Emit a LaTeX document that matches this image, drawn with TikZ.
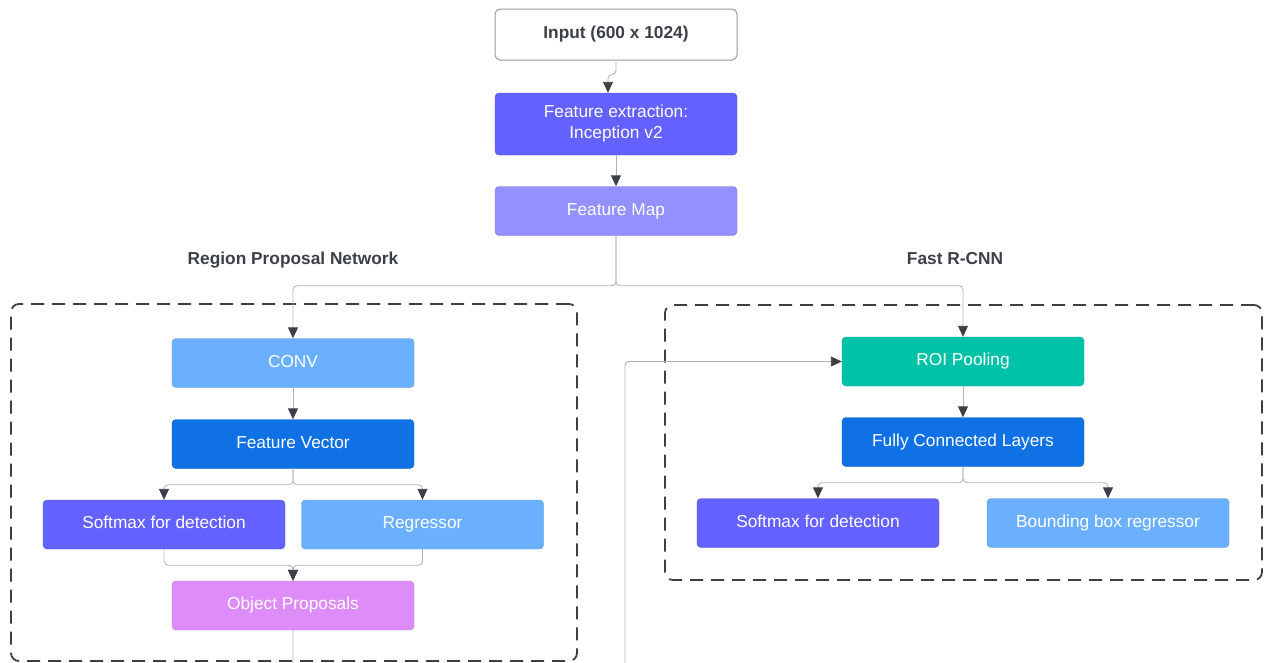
\documentclass[tikz,border=0pt]{standalone}
\usepackage{fontspec}
\setmainfont{Liberation Sans}
\usetikzlibrary{arrows.meta}
\definecolor{cFE}{HTML}{6361FF}
\definecolor{cFM}{HTML}{9391FF}
\definecolor{cLB}{HTML}{6BB0FF}
\definecolor{cDB}{HTML}{1071E5}
\definecolor{cOP}{HTML}{DE8CFA}
\definecolor{cROI}{HTML}{00C2A8}
\definecolor{cDark}{HTML}{3B3F46}
\definecolor{cLine}{HTML}{B4B4B4}
\begin{document}
\begin{tikzpicture}[x=1pt,y=-1pt,
  box/.style={rectangle, rounded corners=4pt, minimum width=242pt, minimum height=49pt,
    text=white, font=\fontsize{17.3}{21}\selectfont, inner sep=0pt, align=center,
    text height=12.5pt, text depth=4pt,
    draw=#1!85!black, line width=0.4pt, fill=#1},
  inbox/.style={rectangle, rounded corners=5pt, minimum width=242pt, minimum height=51pt,
    text=cDark, font=\fontsize{17.3}{21}\selectfont\bfseries, inner sep=0pt,
    text height=12.5pt, text depth=4pt,
    draw=gray!80, line width=1pt, fill=white},
  lbl/.style={text=cDark, font=\fontsize{17.3}{21}\selectfont\bfseries, inner sep=0pt,
    text height=12.5pt, text depth=4pt},
  group/.style={rectangle, rounded corners=8pt, draw=cDark, line width=1.8pt,
    dash pattern=on 13pt off 8pt, inner sep=0pt},
  conn/.style={draw=cLine, line width=0.9pt, rounded corners=4pt,
    -{Triangle[length=11pt,width=10pt,color=cDark]}}
]
\useasboundingbox (0,0) rectangle (1271,662);
\clip (0,0) rectangle (1271,662);

% groups
\node[group, minimum width=566pt, minimum height=357pt] (rpn) at (294,482.5) {};
\node[group, minimum width=597pt, minimum height=275pt] (frc) at (963.5,442.5) {};
\node[lbl] (rpnl) at (293,260) {Region Proposal Network};
\node[lbl] (frcl) at (955,260) {Fast R-CNN};

% top chain
\node[inbox] (in) at (616,34.5) {Input (600 x 1024)};
\node[box=cFE, minimum height=62pt, text height=33.5pt] (fe) at (616,124) {Feature extraction:\\Inception v2};
\node[box=cFM] (fm) at (616,211) {Feature Map};

% RPN
\node[box=cLB] (conv) at (293,363) {CONV};
\node[box=cDB] (fv) at (293,444) {Feature Vector};
\node[box=cFE] (sm1) at (164,524.5) {Softmax for detection};
\node[box=cLB] (reg) at (422.5,524.5) {Regressor};
\node[box=cOP] (op) at (293,605.5) {Object Proposals};

% Fast R-CNN
\node[box=cROI] (roi) at (963,361.5) {ROI Pooling};
\node[box=cDB] (fc) at (963,442) {Fully Connected Layers};
\node[box=cFE] (sm2) at (818,523) {Softmax for detection};
\node[box=cLB] (bb) at (1108,523) {Bounding box regressor};

% connectors
\draw[conn] (in.south) -- ++(0,14) -| ([xshift=-8pt]fe.north);
\draw[conn] (fe.south) -- (fm.north);
\draw[conn] (fm.south) -- ++(0,50) -| (conv.north);
\draw[conn] (fm.south) -- ++(0,50) -| (roi.north);
\draw[conn] (conv.south) -- (fv.north);
\draw[conn] (fv.south) -- ++(0,16) -| (sm1.north);
\draw[conn] (fv.south) -- ++(0,16) -| (reg.north);
\draw[conn] (sm1.south) -- ++(0,16) -| (op.north);
\draw[conn] (reg.south) -- ++(0,16) -| (op.north);
\draw[conn] (op.south) -- (293,700) -| (625,680) |- (roi.west);
\draw[conn] (roi.south) -- (fc.north);
\draw[conn] (fc.south) -- ++(0,16) -| (sm2.north);
\draw[conn] (fc.south) -- ++(0,16) -| (bb.north);
\end{tikzpicture}
\end{document}
